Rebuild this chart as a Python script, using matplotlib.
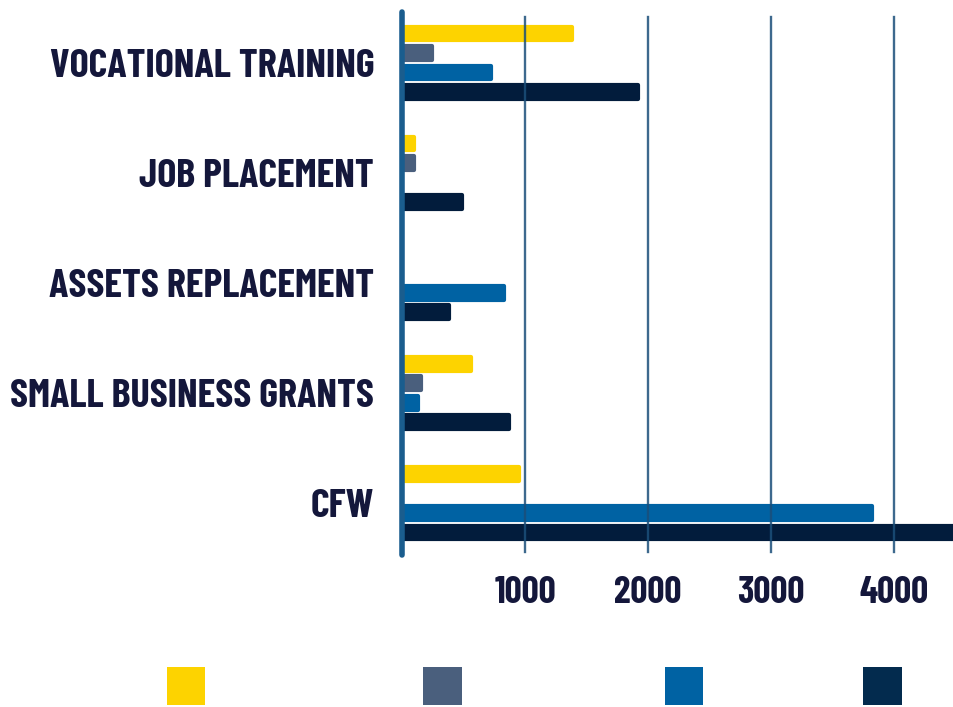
import numpy as np
import matplotlib.pyplot as plt
from matplotlib import font_manager
from matplotlib.patches import Patch

# categories, top to bottom
categories = ["VOCATIONAL TRAINING", "JOB PLACEMENT", "ASSETS REPLACEMENT",
              "SMALL BUSINESS GRANTS", "CFW"]

# four series, legend has colour swatches only (no names shown)
yellow_vals = [1380, 100, 0, 560, 950]
gray_vals = [240, 95, 0, 155, 0]
blue_vals = [720, 0, 830, 130, 3820]
navy_vals = [1920, 490, 385, 870, 4600]

series = [yellow_vals, gray_vals, blue_vals, navy_vals]
colors = ["#FDD300", "#4A5F7D", "#0062A3", "#021C3C"]
legend_colors = ["#FDD300", "#4A5F7D", "#0062A3", "#032B4E"]
xticks = [1000, 2000, 3000, 4000]

# condensed bold font, close to the original's
names = {f.name for f in font_manager.fontManager.ttflist}
font = "DejaVu Sans"
for cand in ["Barlow Condensed", "Barlow Semi Condensed", "Asap Condensed"]:
    if cand in names:
        font = cand
        break
plt.rcParams['font.family'] = [font, 'DejaVu Sans']
plt.rcParams['font.weight'] = 'bold'

text_color = "#14173B"
axis_color = "#1A5D8E"

fig = plt.figure(figsize=(9.54, 7.07), dpi=100)
ax = fig.add_axes([0.4214, 0.215, 0.5786, 0.768])

y = np.arange(len(categories))
step = 0.177
height = 0.125
for i, (vals, c) in enumerate(zip(series, colors)):
    bars = ax.barh(y + (i - 1.5) * step, vals, height=height, color=c,
                   edgecolor=c, linewidth=3, joinstyle='round', zorder=2)
    for b, v in zip(bars, vals):
        if v == 0:
            b.set_visible(False)

# grid lines sit on top of the bars
for t in xticks:
    ax.axvline(t, ymin=0.005, ymax=0.99, color="#1B4F7A", lw=1.7, alpha=0.85, zorder=3)

ax.set_xlim(0, 4490)
ax.set_ylim(4.47, -0.46)
ax.set_yticks(y)
ax.set_yticklabels(categories, fontsize=29, color=text_color, fontweight='bold')
ax.set_xticks(xticks)
ax.set_xticklabels([str(t) for t in xticks], fontsize=27, color=text_color, fontweight='bold')
ax.tick_params(axis='y', length=0, pad=20)
ax.tick_params(axis='x', length=0, pad=15)

for s in ['top', 'right', 'bottom']:
    ax.spines[s].set_visible(False)
ax.spines['left'].set_color(axis_color)
ax.spines['left'].set_linewidth(4)
ax.spines['left'].set_capstyle('round')
ax.spines['left'].set_zorder(4)

# swatch-only legend, placed one swatch at a time
legend_x = [0.195, 0.464, 0.717, 0.925]
for c, lx in zip(legend_colors, legend_x):
    lg = fig.legend([Patch(facecolor=c, edgecolor='none')], [''], loc='center',
                    bbox_to_anchor=(lx, 0.03), frameon=False, fontsize=20,
                    handlelength=1.4, handleheight=1.75, handletextpad=0,
                    borderpad=0, borderaxespad=0)

plt.savefig('out.png', dpi=100)
